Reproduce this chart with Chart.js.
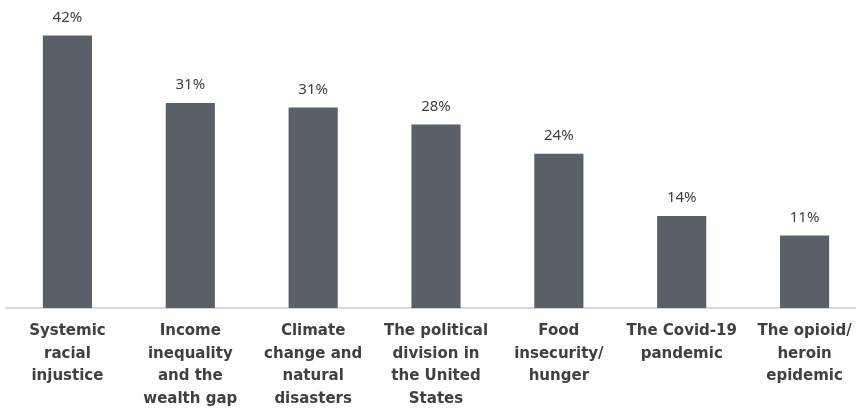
<!DOCTYPE html>
<html>
<head>
<meta charset="utf-8">
<script src="https://cdn.jsdelivr.net/npm/chart.js@4"></script>
<style>
  html, body { margin: 0; padding: 0; background: #fff; overflow: hidden; }
  #wrap { width: 866px; height: 409px; }
</style>
</head>
<body>
<div id="wrap"><canvas id="issuesChart" width="866" height="409"></canvas></div>
<script>
// categorias (quebradas em linhas como no original)
const categories = [
  ['Systemic', 'racial', 'injustice'],
  ['Income', 'inequality', 'and the', 'wealth gap'],
  ['Climate', 'change and', 'natural', 'disasters'],
  ['The political', 'division in', 'the United', 'States'],
  ['Food', 'insecurity/', 'hunger'],
  ['The Covid-19', 'pandemic'],
  ['The opioid/', 'heroin', 'epidemic']
];
const shares = [42, 31.6, 30.9, 28.3, 23.8, 14.2, 11.2];
// rótulos mostrados acima das barras
const shareLabels = ['42%', '31%', '31%', '28%', '24%', '14%', '11%'];

const barColor = '#5a6068';
const textColor = '#404040';

// escreve o valor acima de cada barra
const valueLabels = {
  id: 'valueLabels',
  afterDatasetsDraw(chart) {
    const ctx = chart.ctx;
    const meta = chart.getDatasetMeta(0);
    ctx.save();
    ctx.fillStyle = textColor;
    ctx.font = '15px "Noto Sans", sans-serif';
    ctx.textAlign = 'center';
    ctx.textBaseline = 'middle';
    meta.data.forEach((bar, i) => {
      ctx.fillText(shareLabels[i], bar.x, bar.y - 18);
    });
    ctx.restore();
  }
};

new Chart(document.getElementById('issuesChart'), {
  type: 'bar',
  data: {
    labels: categories,
    datasets: [{
      data: shares,
      backgroundColor: barColor,
      barPercentage: 0.4,
      categoryPercentage: 1
    }]
  },
  options: {
    responsive: false,
    animation: false,
    layout: { padding: { left: 6, right: 0, top: 16, bottom: -5 } },
    plugins: {
      legend: { display: false },
      tooltip: { enabled: false }
    },
    scales: {
      x: {
        grid: { display: false },
        border: { display: true, color: '#d9d9d9', width: 2 },
        ticks: {
          color: textColor,
          maxRotation: 0,
          autoSkip: false,
          padding: 3,
          font: { family: '"DejaVu Sans", sans-serif', size: 15, weight: 'bold', lineHeight: 1.53 }
        }
      },
      y: {
        display: false,
        min: 0,
        max: 45
      }
    }
  },
  plugins: [valueLabels]
});
</script>
</body>
</html>
